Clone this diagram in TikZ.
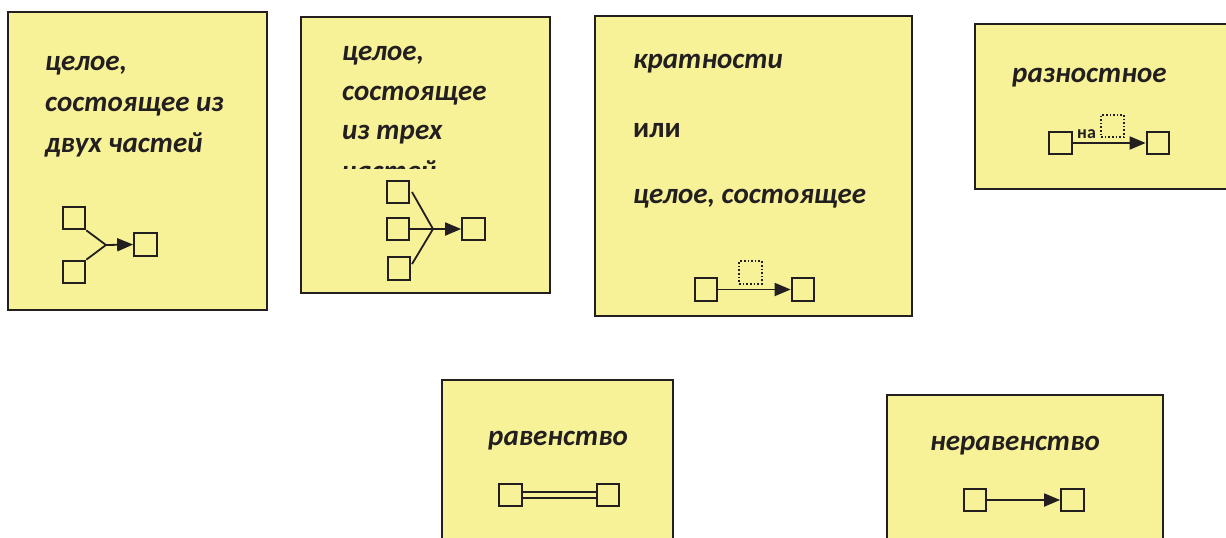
\documentclass[tikz,border=0pt]{standalone}
\usepackage{fontspec}
\setmainfont{Carlito}
\usetikzlibrary{arrows.meta}
\definecolor{paper}{RGB}{247,242,152}
\definecolor{ink}{RGB}{35,31,32}
\tikzset{
  card/.style={draw=ink, line width=2pt, fill=paper},
  lbl/.style={anchor=base west, inner sep=0pt, text=ink, font=\fontsize{29}{34}\selectfont\bfseries\itshape},
  lblup/.style={anchor=base west, inner sep=0pt, text=ink, font=\fontsize{29}{34}\selectfont\bfseries},
  sq/.style={draw=ink, line width=2.2pt, minimum size=22.5pt, inner sep=0pt},
  dsq/.style={draw=ink, line width=1.6pt, dotted, minimum size=22.5pt, inner sep=0pt},
  conn/.style={draw=ink, line width=1.8pt},
  arr/.style={conn, -{Triangle[length=16pt,width=13pt]}},
}
\begin{document}
\begin{tikzpicture}[x=1pt,y=-1pt]
\useasboundingbox (0,0) rectangle (1226,538);
\clip (0,0) rectangle (1226,538);
% cards
\draw[card] (8,12) rectangle (267,310);
\draw[card] (301,17) rectangle (550,293);
\draw[card] (595,16) rectangle (912,316);
\draw[card] (975,24) rectangle (1234,189);
\draw[card] (442,380) rectangle (673,550);
\draw[card] (887,395) rectangle (1163,550);
% box 1
\node[lbl] (t11) at (45,70) {целое,};
\node[lbl] (t12) at (45,111) {состоящее из};
\node[lbl] (t13) at (45,152) {двух частей};
\node[sq] (a1) at (74,218) {};
\node[sq] (a2) at (74,272) {};
\node[sq] (a3) at (145.5,244.5) {};
\coordinate (j1) at (106,245);
\draw[conn] (a1.south east) -- (j1);
\draw[conn] (a2.north east) -- (j1);
\draw[arr] (j1) -- (a3.west);
% box 2
\node[lbl] (t21) at (342,60) {целое,};
\node[lbl] (t22) at (342,100) {состоящее};
\node[lbl] (t23) at (342,139) {из трех};
\begin{scope}
\clip (301,150) rectangle (550,168.5);
\node[lbl] (t24) at (342,180) {частей};
\end{scope}
\node[sq] (b1) at (398,192) {};
\node[sq] (b2) at (398,229) {};
\node[sq] (b3) at (399,268.5) {};
\node[sq] (b4) at (473.5,229) {};
\coordinate (j2) at (433,229);
\coordinate (b1o) at (412,192);
\coordinate (b3o) at (412,264);
\draw[conn] (b1o) -- (j2);
\draw[conn] (b2.east) -- (j2);
\draw[conn] (b3o) -- (j2);
\draw[arr] (j2) -- (b4.west);
% box 3
\node[lbl] (t31) at (633,68) {кратности};
\node[lblup] (t32) at (633,137) {или};
\node[lbl] (t33) at (633,203) {целое, состоящее};
\node[sq] (c1) at (706,289.5) {};
\node[sq] (c2) at (803,289.5) {};
\node[dsq] (c3) at (750.5,272.5) {};
\draw[arr] (c1.east) -- (c2.west);
% box 4
\node[lbl] (t41) at (1012,82) {разностное};
\node[sq] (d1) at (1060.5,143) {};
\node[sq] (d2) at (1158,143) {};
\node[dsq] (d3) at (1112.5,126) {};
\draw[arr] (d1.east) -- (d2.west);
\node[anchor=base west, inner sep=0pt, text=ink, font=\fontsize{18}{21}\selectfont\bfseries] (na) at (1077,138.5) {на};
% box 5
\node[lbl] (t51) at (488,445) {равенство};
\node[sq] (e1) at (510.5,495) {};
\node[sq] (e2) at (608,495) {};
\draw[draw=ink, line width=2.2pt, double=paper, double distance=4.5pt] (e1.east) -- (e2.west);
% box 6
\node[lbl] (t61) at (930,450) {неравенство};
\node[sq] (f1) at (975,500) {};
\node[sq] (f2) at (1072.5,500) {};
\draw[arr] (f1.east) -- (f2.west);
\end{tikzpicture}
\end{document}
